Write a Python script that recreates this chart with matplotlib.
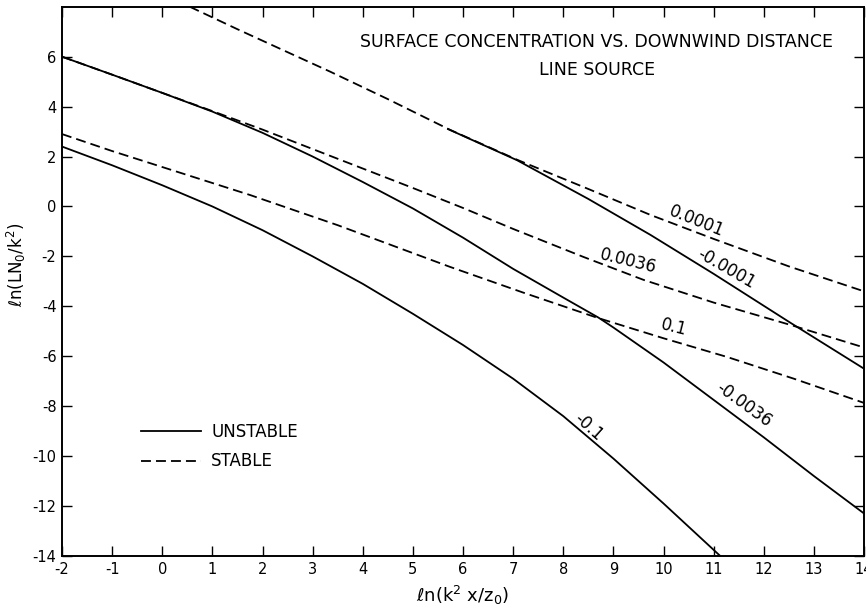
import numpy as np
import matplotlib
matplotlib.use("Agg")
import matplotlib.pyplot as plt

# curves: x = ln(k^2 x / z0), y = ln(L N0 / k^2)
# unstable (solid)
x_um0001 = [5.7, 7.08, 8.5, 9.74, 11.0, 12.5, 14.0]
y_um0001 = [3.1, 1.85, 0.3, -1.14, -2.7, -4.62, -6.5]

x_um0036 = [-2, -1, 0, 1, 2, 3, 4, 5, 6, 7, 8, 8.7, 9, 10, 11, 12, 13, 14]
y_um0036 = [6.0, 5.28, 4.55, 3.8, 2.95, 2.0, 0.98, -0.08, -1.25, -2.5, -3.65, -4.45,
            -4.85, -6.25, -7.75, -9.25, -10.8, -12.3]

x_um1 = [-2, -1, 0, 1, 2, 3, 4, 5, 6, 7, 8, 9, 10, 11.13]
y_um1 = [2.4, 1.65, 0.85, 0.0, -0.95, -2.0, -3.1, -4.3, -5.55, -6.9, -8.4, -10.1, -11.9, -14.0]

# stable (dashed)
x_s0001 = [0.55, 1.5, 2.5, 3.35, 4.5, 5.74, 7.08, 8.5, 9.74, 11, 12.5, 14]
y_s0001 = [8.0, 7.1, 6.18, 5.4, 4.3, 3.07, 1.87, 0.7, -0.34, -1.3, -2.4, -3.4]

x_s0036 = [-2, -1, 0, 1, 2, 3, 4, 5, 6, 7, 8.4, 9.6, 11, 12.59, 14]
y_s0036 = [6.0, 5.28, 4.55, 3.82, 3.08, 2.3, 1.52, 0.74, -0.06, -0.9, -2.02, -2.94,
           -3.85, -4.78, -5.65]

x_s1 = [-2, -1, 0, 1.75, 3.5, 5.74, 7.2, 8.68, 10, 11.27, 12.6, 14]
y_s1 = [2.9, 2.22, 1.58, 0.46, -0.75, -2.42, -3.45, -4.46, -5.28, -6.03, -6.9, -7.87]

curve_labels = ["0.0001", "-0.0001", "0.0036", "0.1", "-0.0036", "-0.1"]
label_x = [10.65, 11.25, 9.3, 10.2, 11.6, 8.5]
label_y = [-0.6, -2.5, -2.2, -4.85, -7.95, -8.85]
label_rot = [-22, -30, -14, -14, -36, -42]

xticks = list(range(-2, 15))
yticks = list(range(-14, 7, 2))

plt.rcParams['font.family'] = 'DejaVu Sans'
plt.rcParams['axes.unicode_minus'] = False
fig = plt.figure(figsize=(8.66, 6.15), dpi=100)
ax = fig.add_axes([0.0716, 0.096, 0.9262, 0.893])

dash = (0, (5.5, 2.8))
lw = 1.3
ax.plot(x_um0001, y_um0001, color='black', lw=lw)
ax.plot(x_um0036, y_um0036, color='black', lw=lw, label='UNSTABLE')
ax.plot(x_um1, y_um1, color='black', lw=lw)
ax.plot(x_s0001, y_s0001, color='black', lw=lw, linestyle=dash)
ax.plot(x_s0036, y_s0036, color='black', lw=lw, linestyle=dash, label='STABLE')
ax.plot(x_s1, y_s1, color='black', lw=lw, linestyle=dash)

for t, tx, ty, r in zip(curve_labels, label_x, label_y, label_rot):
    ax.text(tx, ty, t, rotation=r, ha='center', va='center',
            rotation_mode='anchor', fontsize=12)

ax.text(0.667, 0.935, 'SURFACE CONCENTRATION VS. DOWNWIND DISTANCE',
        transform=ax.transAxes, ha='center', va='center', fontsize=12.5)
ax.text(0.667, 0.885, 'LINE SOURCE', transform=ax.transAxes,
        ha='center', va='center', fontsize=12.5)

ax.legend(loc='upper left', bbox_to_anchor=(0.08, 0.27), frameon=False,
          handlelength=3.6, fontsize=12, labelspacing=0.7, handletextpad=0.6)

ax.set_xlim(-2, 14)
ax.set_ylim(-14, 8)
ax.set_xticks(xticks)
ax.set_yticks(yticks)
ax.tick_params(direction='in', length=7, width=1, top=True, right=True,
               labelsize=10.5, pad=4)
for s in ax.spines.values():
    s.set_linewidth(1.4)

ax.set_xlabel(r'$\ell$n(k$^2$ x/z$_0$)', fontsize=13, labelpad=5)
ax.set_ylabel(r'$\ell$n(LN$_0$/k$^2$)', fontsize=12)
ax.yaxis.set_label_coords(-0.043, 0.53)

plt.savefig('out.png', dpi=100)
